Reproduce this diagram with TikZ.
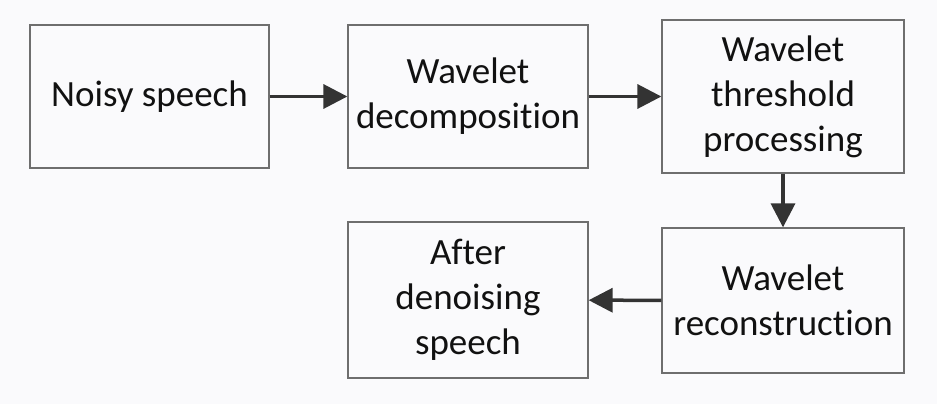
\documentclass[tikz,border=0pt]{standalone}
\usepackage{fontspec}
\setmainfont{Carlito}[Ligatures=NoCommon]
\usepackage{xcolor}
\usepackage{tikz}
\usetikzlibrary{arrows.meta}
\definecolor{bg}{HTML}{FAFAFC}
\definecolor{frame}{HTML}{6E6E6E}
\definecolor{flow}{HTML}{333333}
\definecolor{ink}{HTML}{111111}
\tikzset{
  stage/.style={draw=frame, line width=1.3pt, fill=bg, text=ink, align=center,
    inner sep=0pt, font=\fontsize{37}{45}\selectfont},
  flow/.style={draw=flow, line width=3.5pt, -{Triangle[length=24pt,width=24pt]}},
}

\begin{document}
\begin{tikzpicture}[x=1pt,y=-1pt]
  \fill[bg] (0,0) rectangle (937,404);
  \useasboundingbox (0,0) rectangle (937,404);

  \node[stage, minimum width=239pt, minimum height=143pt] (noisy) at (149.5,96.5) {Noisy speech};
  \node[stage, minimum width=240pt, minimum height=143pt] (decomp) at (468,96.5) {Wavelet\\decomposition};
  \node[stage, minimum width=242pt, minimum height=153pt] (thresh) at (783,96.5) {Wavelet\\threshold\\processing};
  \node[stage, minimum width=242pt, minimum height=145pt] (recon) at (783,300.5) {Wavelet\\reconstruction};
  \node[stage, minimum width=240pt, minimum height=156pt] (clean) at (468,300) {After\\denoising\\speech};

  % processing chain
  \draw[flow] (noisy) -- (decomp);
  \draw[flow] (decomp) -- (thresh);
  \draw[flow] (thresh) -- (recon);
  \draw[flow] (recon) -- (clean);
\end{tikzpicture}
\end{document}
